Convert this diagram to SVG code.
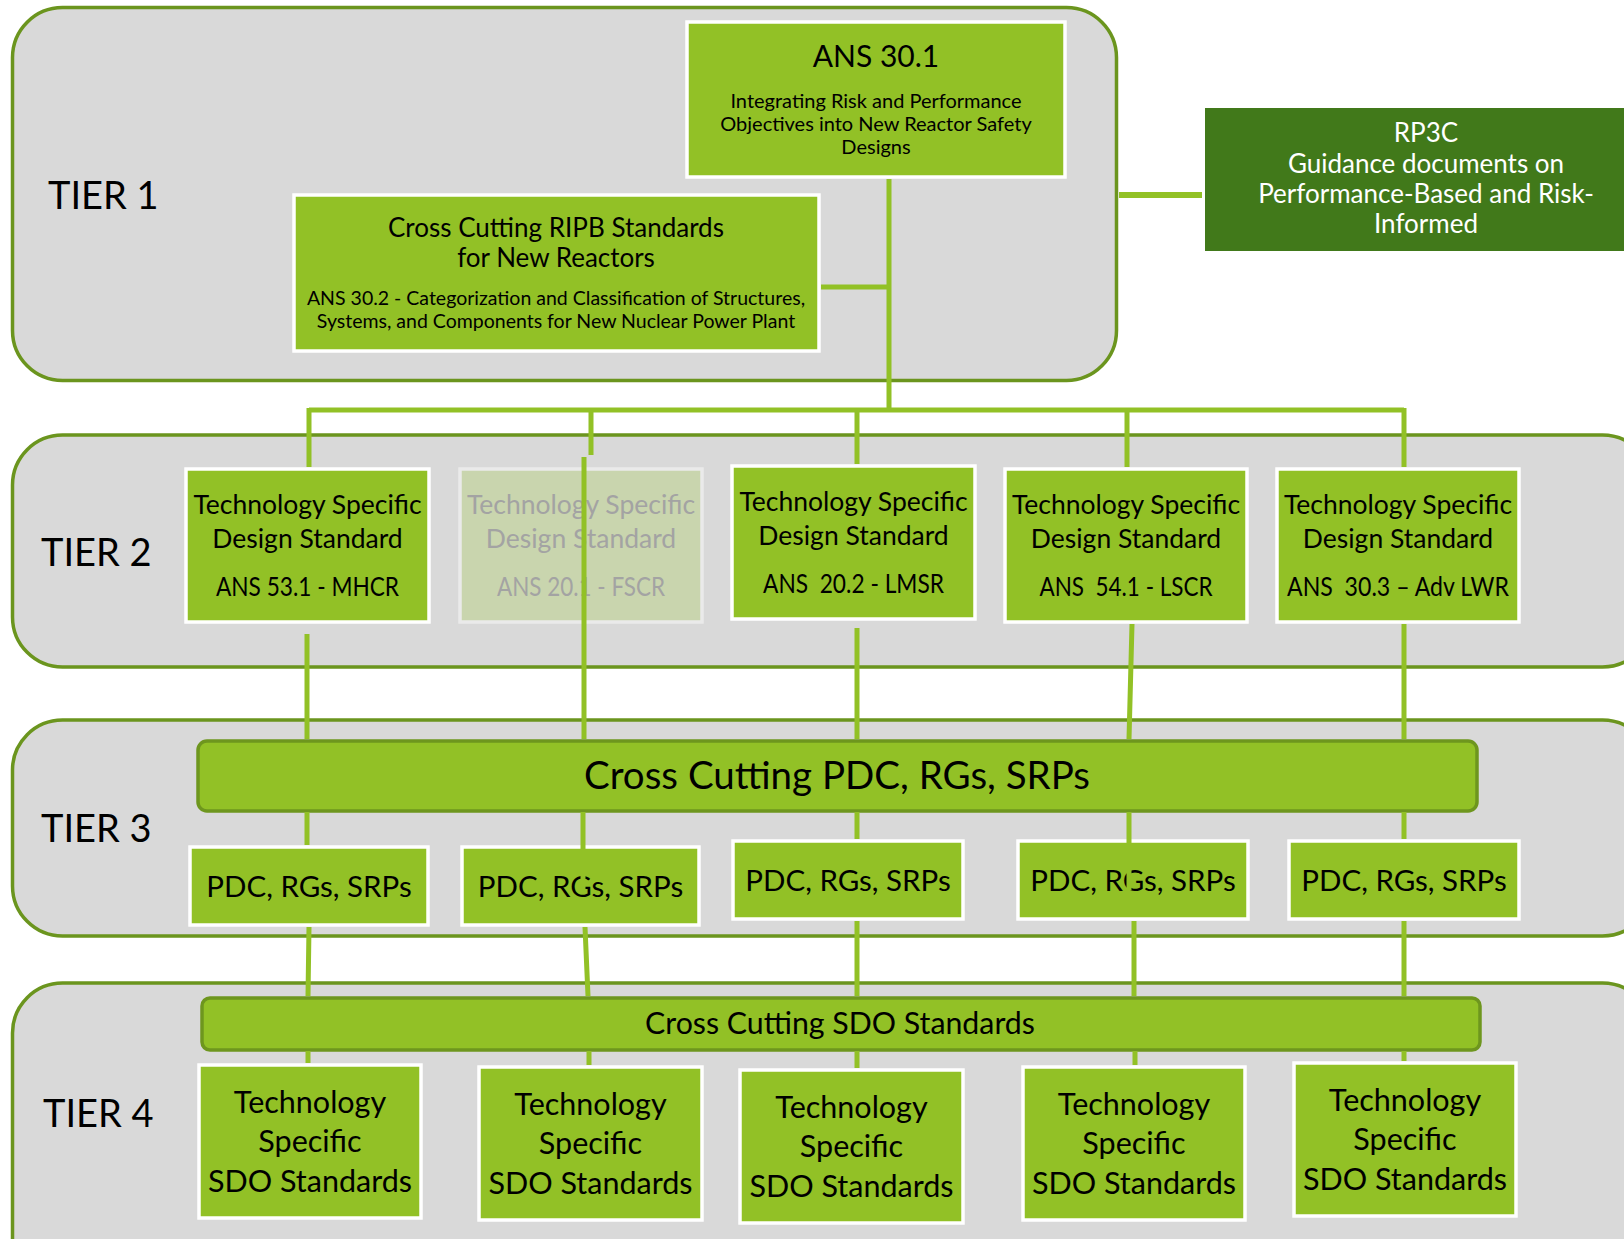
<svg xmlns="http://www.w3.org/2000/svg" width="1624" height="1239" viewBox="0 0 1624 1239">
<style>
text{font-family:Lato,"Liberation Sans",sans-serif;fill:#000;text-anchor:middle}
.tier{fill:#D9D9D9;stroke:#6B951E;stroke-width:3.5}
.box{fill:#92C126;stroke:#FFFFFF;stroke-width:3.5}
.fade{fill:#C9D5AE;stroke:#EAEAEA;stroke-width:3.5}
.bar{fill:#92C126;stroke:#6E961E;stroke-width:3.5}
.lbl{font-size:38px;text-anchor:start}
.t2{font-size:26.5px}
.t3{font-size:29.5px}
.t4{font-size:30.5px}
.ft{fill:#A3A3A3}
.conn{stroke:#92C126;stroke-width:5;fill:none}
</style>
<rect width="1624" height="1239" fill="#FFFFFF"/>
<g id="tiers">
<rect id="tier1" class="tier" x="12.5" y="7.5" width="1104" height="373" rx="50" ry="50"/>
<rect id="tier2" class="tier" x="12.5" y="435" width="1640" height="232" rx="50" ry="50"/>
<rect id="tier3" class="tier" x="12.5" y="720" width="1640" height="216" rx="50" ry="50"/>
<rect id="tier4" class="tier" x="12.5" y="983" width="1640" height="320" rx="50" ry="50"/>
<text class="lbl" x="48" y="209">TIER 1</text>
<text class="lbl" x="41" y="566">TIER 2</text>
<text class="lbl" x="41" y="842">TIER 3</text>
<text class="lbl" x="43" y="1127">TIER 4</text>
</g>
<g id="ans301">
<rect class="box" x="687" y="22" width="378" height="155"/>
<text x="876" y="67" font-size="30">ANS 30.1</text>
<text x="876" y="108" font-size="20">Integrating Risk and Performance</text>
<text x="876" y="131" font-size="20">Objectives into New Reactor Safety</text>
<text x="876" y="154" font-size="20">Designs</text>
</g>
<g id="ripb">
<rect class="box" x="294" y="195" width="525" height="156"/>
<text x="556" y="237" font-size="26">Cross Cutting RIPB Standards</text>
<text x="556" y="267" font-size="26">for New Reactors</text>
<text x="556" y="305" font-size="19.5">ANS 30.2 - Categorization and Classification of Structures,</text>
<text x="556" y="328" font-size="19.5">Systems, and Components for New Nuclear Power Plant</text>
</g>
<g id="rp3c">
<rect x="1203.5" y="106.5" width="460" height="146" fill="#41791A" stroke="#FFFFFF" stroke-width="3"/>
<text x="1426" y="142" font-size="26" style="fill:#FFFFFF">RP3C</text>
<text x="1426" y="173" font-size="26" style="fill:#FFFFFF">Guidance documents on</text>
<text x="1426" y="203" font-size="26" style="fill:#FFFFFF">Performance-Based and Risk-</text>
<text x="1426" y="233" font-size="26" style="fill:#FFFFFF">Informed</text>
</g>
<g id="t2-mhcr">
<rect class="box" x="186" y="469" width="243" height="153"/>
<text class="t2" x="307.5" y="514">Technology Specific</text>
<text class="t2" x="307.5" y="548">Design Standard</text>
<text class="t2" x="307.5" y="596" textLength="183" lengthAdjust="spacingAndGlyphs">ANS 53.1 - MHCR</text>
</g>
<g id="t2-fscr">
<rect class="fade" x="460" y="469" width="242" height="153"/>
<text class="t2 ft" x="581" y="514">Technology Specific</text>
<text class="t2 ft" x="581" y="548">Design Standard</text>
<text class="t2 ft" x="581" y="596" textLength="168" lengthAdjust="spacingAndGlyphs">ANS 20.1 - FSCR</text>
</g>
<g id="t2-lmsr">
<rect class="box" x="732" y="466" width="243" height="153"/>
<text class="t2" x="853.5" y="511">Technology Specific</text>
<text class="t2" x="853.5" y="545">Design Standard</text>
<text class="t2" x="853.5" y="593" textLength="181" lengthAdjust="spacingAndGlyphs">ANS&#160; 20.2 - LMSR</text>
</g>
<g id="t2-lscr">
<rect class="box" x="1005" y="469" width="242" height="153"/>
<text class="t2" x="1126" y="514">Technology Specific</text>
<text class="t2" x="1126" y="548">Design Standard</text>
<text class="t2" x="1126" y="596" textLength="173" lengthAdjust="spacingAndGlyphs">ANS&#160; 54.1 - LSCR</text>
</g>
<g id="t2-advlwr">
<rect class="box" x="1277" y="469" width="242" height="153"/>
<text class="t2" x="1398" y="514">Technology Specific</text>
<text class="t2" x="1398" y="548">Design Standard</text>
<text class="t2" x="1398" y="596" textLength="222" lengthAdjust="spacingAndGlyphs">ANS&#160; 30.3 – Adv LWR</text>
</g>
<g id="pdc-bar">
<rect class="bar" x="198" y="741" width="1279" height="70" rx="9" ry="9"/>
<text x="837" y="789" font-size="38.5">Cross Cutting PDC, RGs, SRPs</text>
</g>
<g id="t3-1"><rect class="box" x="190" y="847" width="238" height="78"/><text class="t3" x="309" y="897">PDC, RGs, SRPs</text></g>
<g id="t3-2"><rect class="box" x="462" y="847" width="237" height="78"/><text class="t3" x="580.5" y="897">PDC, RGs, SRPs</text></g>
<g id="t3-3"><rect class="box" x="733" y="841" width="230" height="78"/><text class="t3" x="848" y="891">PDC, RGs, SRPs</text></g>
<g id="t3-4"><rect class="box" x="1018" y="841" width="230" height="78"/><text class="t3" x="1133" y="891">PDC, RGs, SRPs</text></g>
<g id="t3-5"><rect class="box" x="1289" y="841" width="230" height="78"/><text class="t3" x="1404" y="891">PDC, RGs, SRPs</text></g>
<g id="sdo-bar">
<rect class="bar" x="202" y="998" width="1278" height="52" rx="8" ry="8"/>
<text x="840" y="1034" font-size="30.3">Cross Cutting SDO Standards</text>
</g>
<g id="t4-1"><rect class="box" x="199" y="1065" width="222" height="153"/><text class="t4" x="310" y="1113">Technology</text><text class="t4" x="310" y="1152">Specific</text><text class="t4" x="310" y="1192">SDO Standards</text></g>
<g id="t4-2"><rect class="box" x="479" y="1067" width="223" height="153"/><text class="t4" x="590.5" y="1115">Technology</text><text class="t4" x="590.5" y="1154">Specific</text><text class="t4" x="590.5" y="1194">SDO Standards</text></g>
<g id="t4-3"><rect class="box" x="740" y="1070" width="223" height="153"/><text class="t4" x="851.5" y="1118">Technology</text><text class="t4" x="851.5" y="1157">Specific</text><text class="t4" x="851.5" y="1197">SDO Standards</text></g>
<g id="t4-4"><rect class="box" x="1023" y="1067" width="222" height="153"/><text class="t4" x="1134" y="1115">Technology</text><text class="t4" x="1134" y="1154">Specific</text><text class="t4" x="1134" y="1194">SDO Standards</text></g>
<g id="t4-5"><rect class="box" x="1294" y="1063" width="222" height="153"/><text class="t4" x="1405" y="1111">Technology</text><text class="t4" x="1405" y="1150">Specific</text><text class="t4" x="1405" y="1190">SDO Standards</text></g>
<g id="connectors" class="conn">
<path d="M889 179V410"/>
<path d="M821 287H891"/>
<path d="M1119 195H1202" stroke-width="6"/>
<path d="M309 410H1404"/>
<path d="M309 408V467M591 408V455M857 408V464M1127 408V467M1404 408V467"/>
<path d="M307 634V739M584 457V739M857 628V739M1132 624L1129 739M1404 624V739"/>
<path d="M307 812V845M583 812V890M857 812V839M1129 812V890M1404 812V839"/>
<path d="M309 927L308 996M585 927L588 996M857 921V996M1134 921V996M1404 921V996"/>
<path d="M308 1051V1063M589 1051V1065M857 1051V1068M1135 1051V1065M1404 1051V1061"/>
</g>
</svg>
